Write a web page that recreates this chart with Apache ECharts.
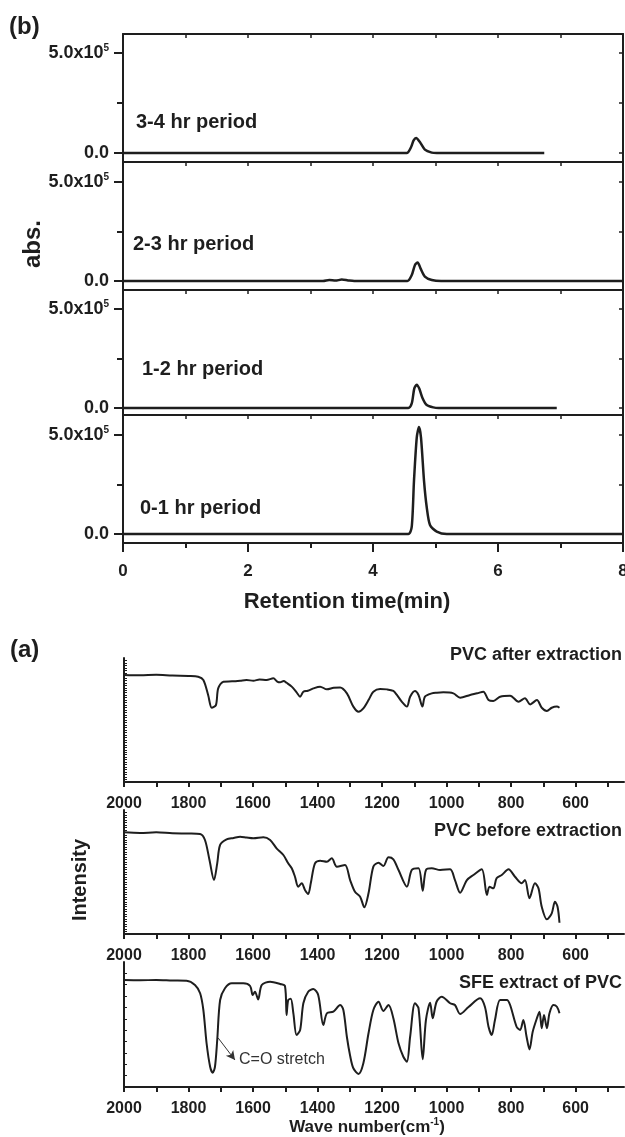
<!DOCTYPE html>
<html><head><meta charset="utf-8">
<script src="https://cdn.jsdelivr.net/npm/echarts@6/dist/echarts.min.js"></script>
<style>html,body{margin:0;padding:0;background:#fff}#c{width:625px;height:1137px}</style>
</head><body><div id="c"></div>
<script>
// ---------- data: panel (b) chromatograms [retention time (min), abs.] ----------
const period34 = [[0,0],[2.0,0],[4.54,0],[4.61,30000],[4.65,63000],[4.69,75000],[4.75,55000],[4.83,17000],[4.94,2000],[5.02,0],[6.74,0]];
const period23 = [[0,0],[3.2,0],[3.3,5000],[3.4,2000],[3.5,7000],[3.6,3000],[3.7,0],[4.55,0],[4.62,30000],[4.67,80000],[4.715,94000],[4.76,64000],[4.83,22000],[4.94,5000],[5.09,0],[8,0]];
const period12 = [[0,0],[3.0,0],[4.565,0],[4.62,23000],[4.66,98000],[4.70,118000],[4.74,98000],[4.795,48000],[4.86,15000],[4.965,3000],[5.05,0],[6.94,0]];
const period01 = [[0,0],[3.0,0],[4.565,0],[4.62,37000],[4.656,270000],[4.70,487000],[4.736,540000],[4.768,487000],[4.816,270000],[4.859,137000],[4.912,45000],[5.02,12000],[5.18,0],[8,0]];
const periodLabels = ['3-4 hr period','2-3 hr period','1-2 hr period','0-1 hr period'];
const chromXLabels = [0,2,4,6,8];
const chromYLabels = [0,500000];
const chromYTicks = [0,250000,500000];

// ---------- data: panel (a) FTIR [wave number (cm-1), intensity a.u.] ----------
const ftirAfter = [[2000,86.3],[1950,86.0],[1900,86.5],[1850,85.8],[1800,85.5],[1770,84.9],[1754,82.3],[1739,70],[1728,59.9],[1715,62],[1708,75.5],[1692,80.9],[1665,81.2],[1640,81.7],[1620,82.2],[1599,81.7],[1580,82.6],[1558,82.3],[1537,83.6],[1525,81.0],[1516,80.4],[1505,81.5],[1496,80],[1480,76.9],[1465,72.3],[1454,68.8],[1444,72.8],[1430,73.6],[1413,75.5],[1392,76.9],[1371,74.7],[1350,76.0],[1330,76.3],[1309,71.5],[1289,60.8],[1273,56.7],[1258,59.4],[1240,67],[1227,72.8],[1206,75],[1185,74.7],[1165,73.4],[1154,70.2],[1139,64.8],[1123,60.8],[1113,68.8],[1098,73.4],[1087,70.2],[1075,60.8],[1067,68.8],[1046,71.5],[1030,72.0],[1010,72.3],[979,71.5],[958,68],[927,70.2],[905,71.5],[886,72.8],[870,66.1],[855,65.3],[834,68.8],[803,69.6],[777,64.8],[757,67.5],[741,62.6],[720,66.1],[705,59.9],[689,57.3],[674,59.9],[658,60.8],[650,59.9]];
const ftirBefore = [[2000,82],[1950,81.5],[1900,82.0],[1850,81.2],[1800,81.0],[1764,80.6],[1749,75.8],[1735,59.7],[1721,43.5],[1711,57],[1702,71.8],[1682,76.3],[1660,77.5],[1640,78.5],[1620,77.8],[1599,77.2],[1568,78],[1547,75.8],[1527,69.1],[1506,63.7],[1491,57],[1480,53],[1470,46.2],[1460,38.2],[1449,40.9],[1439,35.5],[1429,32.3],[1421,40.9],[1408,57],[1392,59.1],[1371,58.3],[1356,61],[1340,54.3],[1315,55.6],[1299,43.5],[1284,34.1],[1268,30.1],[1255,21.5],[1242,32.8],[1227,54.3],[1211,57.5],[1196,54.8],[1180,61.8],[1165,60.2],[1149,51.6],[1123,38.2],[1108,51.6],[1087,53],[1074,34.9],[1064,51.6],[1046,53],[1020,51.6],[989,52.2],[974,43.5],[958,33.3],[937,43.5],[917,47.6],[891,52.2],[875,31.5],[867,38.2],[855,36.8],[845,44.9],[829,47.6],[808,52.2],[788,46.2],[767,40.9],[757,43.5],[743,28.8],[726,40.9],[715,36.8],[705,22],[689,11.8],[674,16.7],[664,26],[656,22],[650,9.1]];
const ftirExtract = [[2000,85.6],[1950,85.4],[1900,85.6],[1850,85.2],[1806,85],[1780,81.6],[1764,75],[1754,61.6],[1744,35],[1733,16.2],[1725,11.4],[1718,16.2],[1711,37.6],[1702,69.6],[1687,79],[1666,83],[1630,83],[1609,80.8],[1601,73.6],[1594,76.2],[1584,70.1],[1573,81.6],[1547,84.2],[1516,82.4],[1501,80.8],[1496,57.6],[1491,69.6],[1483,70.6],[1475,59],[1465,41.6],[1454,45.6],[1444,67],[1429,76.2],[1413,78.4],[1398,73.6],[1382,49.6],[1371,59],[1351,60.3],[1330,65.6],[1320,61.6],[1309,40],[1299,25],[1289,15],[1273,10.4],[1258,19],[1242,43],[1227,61.6],[1211,68.2],[1196,60.8],[1180,65.6],[1165,55],[1149,35],[1134,24.2],[1123,20.2],[1113,40.2],[1098,67],[1087,63],[1074,22.2],[1064,53.6],[1051,67.4],[1043,55],[1031,68.2],[1015,72.2],[989,67],[974,65.6],[958,58.4],[932,64],[896,71],[881,64],[870,48.2],[860,41.6],[850,53.6],[834,69.6],[813,69.6],[803,65.6],[783,48.2],[772,45.6],[762,53.6],[752,40.2],[743,30.1],[733,44.2],[720,55],[712,60.3],[705,47],[698,57.6],[689,47],[681,59],[669,65.6],[658,64.2],[650,59]];
const ftirLabels = ['PVC after extraction','PVC before extraction','SFE extract of PVC'];
const ftirXLabels = [600,800,1000,1200,1400,1600,1800,2000];
const ftirXTicks = [500,600,700,800,900,1000,1100,1200,1300,1400,1500,1600,1700,1800,1900,2000];
const annotation = {text:'C=O stretch', from:[1708,39.2], to:[1656,21.6]};

// ---------- layout ----------
const INK = '#1e1e1e';
const FONT = 'Liberation Sans, Arial, sans-serif';
const chromSeries = [period34, period23, period12, period01];
const chromLayout = [
  {top:34, bottom:162, min:-45000, max:595000, labelY:123, labelX:136},
  {top:162, bottom:290, min:-45450, max:601000, labelY:245, labelX:133},
  {top:290, bottom:415, min:-35350, max:596000, labelY:370, labelX:142},
  {top:415, bottom:543, min:-45450, max:601000, labelY:509, labelX:140}
];
const ftirSeries = [ftirAfter, ftirBefore, ftirExtract];
const ftirLayout = [
  {top:658, height:124, labelY:656, dense:true},
  {top:810, height:124, labelY:832, dense:true},
  {top:962, height:125, labelY:984, dense:false}
];

const grid = [], xAxis = [], yAxis = [], series = [], graphic = [];

chromLayout.forEach((L, i) => {
  grid.push({left:123, width:500, top:L.top, height:L.bottom - L.top, outerBoundsMode:'none', containLabel:false});
  const last = i === 3;
  xAxis.push({
    gridIndex:i, type:'value', min:0, max:8, interval:2, position:'bottom',
    axisLine:{show:true, onZero:false, lineStyle:{color:INK, width:2}},
    axisTick:{show:last, inside:false, length:9, lineStyle:{color:INK, width:2}},
    minorTick:{show:last, splitNumber:2, length:5, lineStyle:{color:INK, width:2}},
    axisLabel:{show:last, margin:20, fontSize:17, fontWeight:'bold', color:INK, fontFamily:FONT,
      customValues: chromXLabels, formatter: v => String(v), hideOverlap:false},
    splitLine:{show:false}, minorSplitLine:{show:false}
  });
  xAxis.push({
    gridIndex:i, type:'value', min:0, max:8, interval:1, position:'top',
    axisLine:{show:true, onZero:false, lineStyle:{color:INK, width:2}},
    axisTick:{show:true, inside:true, length:4, lineStyle:{color:INK, width:1.5}},
    axisLabel:{show:false}, splitLine:{show:false}
  });
  yAxis.push({
    gridIndex:i, type:'value', min:L.min, max:L.max, position:'left',
    axisLine:{show:true, onZero:false, lineStyle:{color:INK, width:2}},
    axisTick:{show:true, inside:false, length:9, customValues:chromYLabels, lineStyle:{color:INK, width:2}},
    axisLabel:{show:true, margin:14, customValues:chromYLabels, color:INK, fontFamily:FONT,
      formatter: v => v === 0 ? '{m|0.0}' : '{m|5.0x10}{s|5}',
      rich:{m:{fontSize:18, fontWeight:'bold', color:INK, fontFamily:FONT, lineHeight:20},
            s:{fontSize:10, fontWeight:'bold', color:INK, fontFamily:FONT, lineHeight:20, verticalAlign:'top'}}},
    splitLine:{show:false}
  });
  yAxis.push({
    gridIndex:i, type:'value', min:L.min, max:L.max, position:'left',
    axisLine:{show:false, onZero:false},
    axisTick:{show:true, inside:false, length:6, customValues:[chromYTicks[1]], lineStyle:{color:INK, width:2}},
    axisLabel:{show:false}, splitLine:{show:false}
  });
  yAxis.push({
    gridIndex:i, type:'value', min:L.min, max:L.max, position:'right',
    axisLine:{show:true, onZero:false, lineStyle:{color:INK, width:2}},
    axisTick:{show:true, inside:true, length:4, customValues:chromYTicks, lineStyle:{color:INK, width:1.5}},
    axisLabel:{show:false}, splitLine:{show:false}
  });
  series.push({
    type:'line', xAxisIndex:2*i, yAxisIndex:3*i, data:chromSeries[i], showSymbol:false,
    smooth:0.25, lineStyle:{color:INK, width:2.5}, silent:true
  });
  graphic.push({type:'text', left:L.labelX, top:L.labelY - 11,
    style:{text:periodLabels[i], font:'bold 20px ' + FONT, fill:INK}});
});

ftirLayout.forEach((L, j) => {
  const g = 4 + j;
  grid.push({left:124, width:500, top:L.top, height:L.height, outerBoundsMode:'none', containLabel:false});
  xAxis.push({
    gridIndex:g, type:'value', min:450, max:2000, inverse:true, position:'bottom',
    axisLine:{show:true, onZero:false, lineStyle:{color:INK, width:2}},
    axisTick:{show:true, inside:false, length:5, customValues:ftirXTicks, lineStyle:{color:INK, width:2}},
    axisLabel:{show:true, margin:14, fontSize:16, fontWeight:'bold', color:INK, fontFamily:FONT,
      customValues:ftirXLabels, formatter: v => String(v), hideOverlap:false},
    splitLine:{show:false}
  });
  const ticks = [];
  if (L.dense) { for (let v = 2; v < 100; v += 2) ticks.push(v); }
  else { for (let k = 1; k <= 10; k++) ticks.push(k * 100 / 11); }
  yAxis.push({
    gridIndex:g, type:'value', min:0, max:100, position:'left',
    axisLine:{show:true, onZero:false, lineStyle:{color:INK, width:2}},
    axisTick:{show:true, inside:true, length:3, customValues:ticks, lineStyle:{color:INK, width:1}},
    axisLabel:{show:false}, splitLine:{show:false}
  });
  const s = {
    type:'line', xAxisIndex:8 + j, yAxisIndex:12 + j, data:ftirSeries[j], showSymbol:false,
    smooth:0.3, lineStyle:{color:INK, width:2}, silent:true
  };
  if (j === 2) {
    s.markLine = {silent:true, symbol:['none','arrow'], symbolSize:[7,9], animation:false,
      lineStyle:{color:'#333', width:1, type:'solid'}, label:{show:false},
      data:[[{coord:annotation.from}, {coord:annotation.to}]]};
    s.markPoint = {silent:true, animation:false,
      data:[{coord:[annotation.to[0] - 8, annotation.to[1]], symbol:'circle', symbolSize:1,
        itemStyle:{color:'rgba(0,0,0,0)'},
        label:{show:true, position:'right', distance:1, formatter:annotation.text,
          fontSize:16, color:'#333', fontFamily:FONT}}]};
  }
  series.push(s);
  graphic.push({type:'text', right:3, top:L.labelY - 10,
    style:{text:ftirLabels[j], font:'bold 18px ' + FONT, fill:INK}});
});

// panel titles / axis titles
graphic.push({type:'text', left:9, top:15, style:{text:'(b)', font:'bold 24px ' + FONT, fill:INK}});
graphic.push({type:'text', left:10, top:638, style:{text:'(a)', font:'bold 24px ' + FONT, fill:INK}});
graphic.push({type:'text', x:33, y:244, rotation:Math.PI/2,
  style:{text:'abs.', font:'bold 24px ' + FONT, fill:INK, align:'center', verticalAlign:'middle'}});
graphic.push({type:'text', x:80, y:880, rotation:Math.PI/2,
  style:{text:'Intensity', font:'bold 20px ' + FONT, fill:INK, align:'center', verticalAlign:'middle'}});
graphic.push({type:'text', x:347, y:602,
  style:{text:'Retention time(min)', font:'bold 22px ' + FONT, fill:INK, align:'center', verticalAlign:'middle'}});
graphic.push({type:'text', x:367, y:1127,
  style:{text:'{m|Wave number(cm}{s|-1}{m|)}', align:'center', verticalAlign:'middle',
    rich:{m:{font:'bold 17px ' + FONT, fill:INK, lineHeight:20},
          s:{font:'bold 10px ' + FONT, fill:INK, lineHeight:20, verticalAlign:'top'}}}});

const chart = echarts.init(document.getElementById('c'), null, {renderer:'canvas'});
chart.setOption({animation:false, backgroundColor:'#fff', grid, xAxis, yAxis, series, graphic});
</script></body></html>
